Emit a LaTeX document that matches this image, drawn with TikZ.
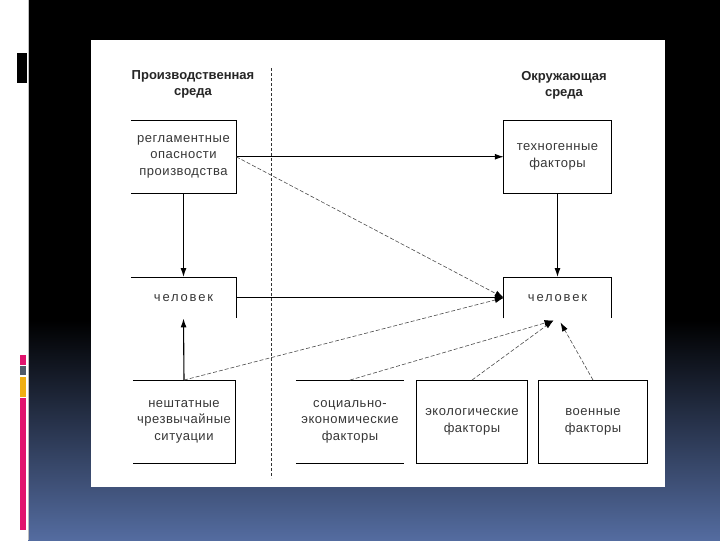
\documentclass[tikz,border=0pt]{standalone}
\usepackage{fontspec}
\setmainfont{Liberation Sans}
\usetikzlibrary{arrows.meta, calc}
\definecolor{slidebot}{RGB}{84,108,160}
\definecolor{txtgray}{RGB}{55,55,55}
\definecolor{accpink}{RGB}{225,20,110}
\definecolor{accgray}{RGB}{80,90,105}
\definecolor{accyellow}{RGB}{240,175,20}
\tikzset{
  lbl/.style     = {text=txtgray, align=center, inner sep=0pt,
                    font=\fontsize{13}{16.5}\selectfont\addfontfeatures{LetterSpace=4}},
  wide/.style    = {font=\fontsize{13}{16.5}\selectfont\addfontfeatures{LetterSpace=14}},
  hdr/.style     = {text=black!85, align=center, inner sep=0pt,
                    font=\fontsize{13}{16.5}\selectfont\bfseries},
  rim/.style     = {line width=1.1pt, black},
  divider/.style = {line width=0.7pt, black!80, dash pattern=on 3pt off 2pt},
  arrow/.style   = {-{Latex[length=9pt,width=6pt]}, line width=1.1pt, black},
  darrow/.style  = {-{Latex[length=9pt,width=6pt,black]}, line width=0.6pt,
                    black!70, dash pattern=on 4pt off 2pt},
}
\begin{document}
\begin{tikzpicture}[x=1pt, y=-1pt]
  % slide background
  \fill[black] (0,0) rectangle (720,540);
  \shade[top color=black, bottom color=slidebot] (28,320) rectangle (720,540);
  \fill[white] (0,0) rectangle (28,540);
  \draw[gray!50, line width=0.5pt] (28,0) -- (28,540);
  \fill[black] (17,53) rectangle (27,83);
  \fill[accpink] (20,355) rectangle (26,365);
  \fill[accgray] (20,366) rectangle (26,375);
  \fill[accyellow] (20,377) rectangle (26,397);
  \fill[accpink] (20,398) rectangle (26,530);
  \fill[white] (91,40) rectangle (665,487);

  % headers
  \node[hdr] (hprod) at (193,84) {Производственная\\среда};
  \node[hdr] (henv) at (564,85) {Окружающая\\среда};
  \coordinate (divtop) at (271,68);
  \coordinate (divbot) at (271,478);
  \draw[divider] (divtop) -- (divbot);

  % boxes
  \node[lbl, minimum width=105pt, minimum height=73pt] (reg) at (183.5,156.5)
    {регламентные\\опасности\\производства};
  \node[lbl, minimum width=107pt, minimum height=73pt] (tech) at (557.5,156.5)
    {техногенные\\факторы};
  \node[lbl, wide, minimum width=105pt, minimum height=41pt] (man1) at (183.5,297.5) {человек};
  \node[lbl, wide, minimum width=107pt, minimum height=41pt] (man2) at (557.5,297.5) {человек};
  \foreach \n/\x/\w/\t in {nesht/184/102/{нештатные\\чрезвычайные\\ситуации},
                           soc/350/108/{социально-\\экономические\\факторы},
                           eco/472/110/{экологические\\факторы},
                           mil/593/108/{военные\\факторы}} {
    \node[lbl, minimum width=\w pt, minimum height=83pt] (\n) at (\x,421.5) {\t};
  }

  % outlines (some sides left open)
  \draw[rim] (reg.north west) -- (reg.north east) -- (reg.south east) -- (reg.south west);
  \draw[rim] (tech.north west) rectangle (tech.south east);
  \draw[rim] (man1.north west) -- (man1.north east) -- (man1.south east);
  \draw[rim] (man2.south west) -- (man2.north west) -- (man2.north east) -- (man2.south east);
  \draw[rim] (nesht.north west) -- (nesht.north east) -- (nesht.south east) -- (nesht.south west);
  \draw[rim] (soc.north west) -- (soc.north east);
  \draw[rim] (soc.south west) -- (soc.south east);
  \draw[rim] (eco.north west) rectangle (eco.south east);
  \draw[rim] (mil.north west) rectangle (mil.south east);

  % solid links
  \draw[arrow] (reg.east) -- (tech.west);
  \draw[arrow] (reg.south) -- (man1.north);
  \draw[arrow] (man1.east) -- (man2.west);
  \draw[arrow] (tech.south) -- (man2.north);
  \draw[arrow] (nesht.north) -- (man1.south);

  % dashed links
  \coordinate (hitA) at ($(man2.south)+(-4,2)$);
  \coordinate (hitB) at ($(man2.south)+(3,4)$);
  \draw[darrow] (reg.east) -- (man2.west);
  \draw[darrow] (nesht.north) -- (man2.west);
  \draw[darrow] (soc.north) -- (hitA);
  \draw[darrow] (eco.north) -- (hitA);
  \draw[darrow] (mil.north) -- (hitB);
\end{tikzpicture}
\end{document}
